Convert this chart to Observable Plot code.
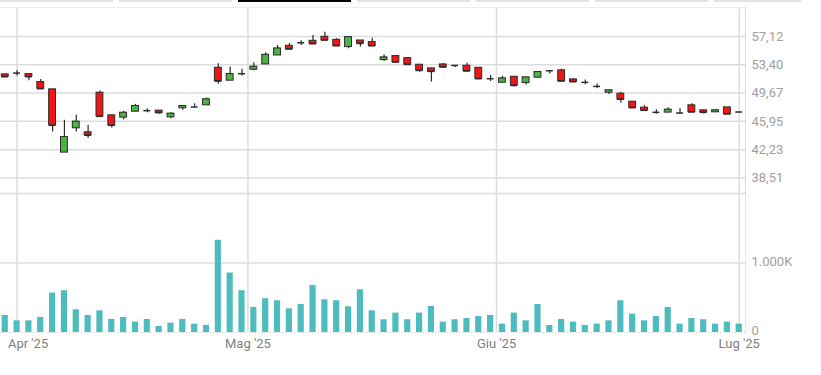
<!DOCTYPE html>
<html><head><meta charset="utf-8">
<script src="https://cdn.jsdelivr.net/npm/d3@7"></script>
<script src="https://cdn.jsdelivr.net/npm/@observablehq/plot@0.6"></script>
<style>
body{margin:0;background:#fff;width:821px;height:375px;overflow:hidden;position:relative;font-family:Roboto,sans-serif}
#tabs{position:absolute;top:0;left:0;height:2px;width:821px}
#tabs div{position:absolute;top:0;height:2px;background:#e2e2e2}
#price{position:absolute;top:0;left:0}
#vol{position:absolute;top:193px;left:0}
</style></head><body>
<div id="tabs"></div><div id="price"></div><div id="vol"></div>
<script>
// OHLC values per trading day (31 Mar 2025 .. 1 Jul 2025)
const open  = [52.13,52.30,52.17,51.12,50.16,41.84,45.04,44.51,49.72,46.74,46.44,47.22,47.36,47.36,46.48,47.67,47.84,48.06,53.00,51.30,52.22,
               52.74,53.44,54.62,55.89,56.29,56.55,57.08,56.68,55.72,56.59,56.38,54.01,54.54,54.27,53.40,52.92,53.44,53.31,53.27,53.00,51.56,
               51.03,51.82,50.99,51.69,52.61,52.66,51.47,51.08,50.55,49.72,49.59,48.54,47.75,47.14,47.10,47.05,48.06,47.40,47.14,47.79,47.18];
const high  = [52.15,52.65,52.17,51.47,50.16,46.09,46.74,45.43,49.94,46.74,47.27,48.19,47.62,47.36,47.09,47.97,48.28,49.02,53.53,53.09,52.79,
               53.66,54.97,55.94,56.20,56.55,57.25,57.69,56.81,57.03,56.59,56.90,54.71,54.54,54.27,53.40,52.92,53.53,53.31,53.61,53.00,52.00,
               51.87,51.82,51.73,52.44,52.61,52.79,51.56,51.38,50.86,50.03,49.77,48.54,48.01,47.49,47.75,47.62,48.28,47.40,47.40,47.79,47.18];
const low   = [51.75,51.91,51.30,50.25,44.55,41.84,44.55,43.68,46.50,45.08,46.17,47.22,47.09,46.92,46.31,47.40,47.80,48.06,50.82,51.30,51.91,
               52.61,53.44,54.62,55.46,55.94,56.16,56.64,55.89,55.50,55.72,55.89,53.84,53.75,53.44,52.43,51.12,52.96,53.00,52.57,51.56,51.21,
               51.03,50.47,50.73,51.69,52.17,51.25,51.16,50.77,50.25,49.50,48.32,47.75,47.40,46.87,47.10,46.96,47.18,46.92,47.14,46.92,47.18];
const close = [51.82,52.30,51.82,50.25,45.43,43.90,45.91,44.12,46.61,45.43,47.09,47.97,47.36,47.09,46.96,47.97,47.84,48.85,51.25,52.17,52.22,
               53.14,54.71,55.54,55.46,56.29,56.16,56.64,55.89,57.03,56.20,55.89,54.36,53.75,53.44,52.65,52.52,53.09,53.31,52.57,51.56,51.56,
               51.60,50.68,51.73,52.44,52.61,51.25,51.16,51.08,50.55,50.03,48.85,47.75,47.40,47.14,47.49,47.05,47.18,47.14,47.40,46.92,47.18];
// Volume in thousands
const volume = [245,168,168,216,567,601,327,245,312,188,216,149,188,87,135,188,120,101,1327,856,601,
                361,486,457,341,404,678,471,457,370,615,312,183,279,183,279,375,149,183,202,231,245,
                120,279,168,404,101,188,149,101,120,168,457,264,168,231,361,120,202,183,120,149,120];
// Month ticks (position in trading-day index) and labels
const monthTicks  = [1, 20.5, 41.5, 62];
const monthLabels = ["Apr '25", "Mag '25", "Giu '25", "Lug '25"];
const priceTicks  = [57.12, 53.40, 49.67, 45.95, 42.23, 38.51];
const volumeTicks = [0, 1000];

// decorative tab strip at top
const tabs = document.getElementById("tabs");
for (let k = 0; k < 7; k++) {
  const d = document.createElement("div");
  d.style.left = (k * 119) + "px";
  d.style.width = (k === 6 ? 87 : 113) + "px";
  if (k === 2) d.style.background = "#000";
  tabs.appendChild(d);
}

const bars = d3.range(open.length).map(i => ({i, open: open[i], high: high[i], low: low[i], close: close[i], volume: volume[i]}));
const xDomain = [-0.4, 62.53];
const grid = "#dcdcdc";
const up = "#4bb543", down = "#f01616", edge = "#2b2b2b", teal = "#4dbcbe";
const fmtPrice = d => d.toFixed(2).replace(".", ",");
const fmtVol = d => d === 0 ? "0" : d3.format(",")(d).replace(/,/g, ".") + "K";
const hw = 0.29;

const price = Plot.plot({
  width: 821, height: 194, marginLeft: 0, marginRight: 76, marginTop: 7, marginBottom: 1,
  x: {type: "linear", domain: xDomain, axis: null},
  y: {domain: [36.46, 60.93], axis: null},
  style: {fontFamily: "Roboto, sans-serif", fontSize: "13px", color: "#a0a0a0", background: "transparent", overflow: "visible"},
  marks: [
    Plot.ruleY(priceTicks, {stroke: grid, strokeWidth: 1.5}),
    Plot.ruleX(monthTicks, {stroke: grid, strokeWidth: 1.5}),
    Plot.ruleY([60.93], {stroke: "#eeeeee", strokeWidth: 1.5}),
    Plot.ruleY([36.46], {stroke: grid, strokeWidth: 1.5}),
    Plot.ruleX([xDomain[1]], {stroke: grid, strokeWidth: 1}),
    Plot.ruleX(bars, {x: "i", y1: "low", y2: "high", stroke: edge, strokeWidth: 1.2}),
    Plot.ruleY(bars, {x1: d => d.i - hw, x2: d => d.i + hw, y: "close", stroke: edge, strokeWidth: 1.5}),
    Plot.rect(bars, {x1: d => d.i - hw, x2: d => d.i + hw, y1: "open", y2: "close",
      fill: d => d.close > d.open ? up : down, stroke: edge, strokeWidth: 1}),
    Plot.axisY(priceTicks, {anchor: "right", tickSize: 0, tickPadding: 6, tickFormat: fmtPrice, label: null})
  ]
});
document.getElementById("price").appendChild(price);

const labels = monthTicks.map((t, k) => ({t, label: monthLabels[k]}));
const vol = Plot.plot({
  width: 821, height: 182, marginLeft: 0, marginRight: 76, marginTop: 0, marginBottom: 43,
  x: {type: "linear", domain: xDomain, axis: null},
  y: {domain: [0, 2000], axis: null, label: null},
  style: {fontFamily: "Roboto, sans-serif", fontSize: "13px", color: "#a0a0a0", background: "transparent", overflow: "visible"},
  marks: [
    Plot.ruleY([1000], {stroke: grid, strokeWidth: 1.5}),
    Plot.ruleX(monthTicks, {stroke: grid, strokeWidth: 1.5}),
    Plot.ruleX([xDomain[1]], {stroke: "#d0d0d0", strokeWidth: 1, strokeDasharray: "1,1"}),
    Plot.rectY(bars, {x1: d => d.i - 0.26, x2: d => d.i + 0.26, y: "volume", fill: teal}),
    Plot.ruleY([0], {stroke: "#cfcfcf", strokeWidth: 1, strokeDasharray: "1,2"}),
    Plot.axisY(volumeTicks, {anchor: "right", tickSize: 0, tickPadding: 6, tickFormat: fmtVol, label: null, dy: -1.5}),
    Plot.text(labels.slice(0, 1), {x: "t", text: "label", frameAnchor: "bottom", lineAnchor: "top", dy: 6, dx: 11, fill: "#7f7f7f"}),
    Plot.text(labels.slice(1), {x: "t", text: "label", frameAnchor: "bottom", lineAnchor: "top", dy: 6, fill: "#7f7f7f"})
  ]
});
document.getElementById("vol").appendChild(vol);
</script>
</body></html>
